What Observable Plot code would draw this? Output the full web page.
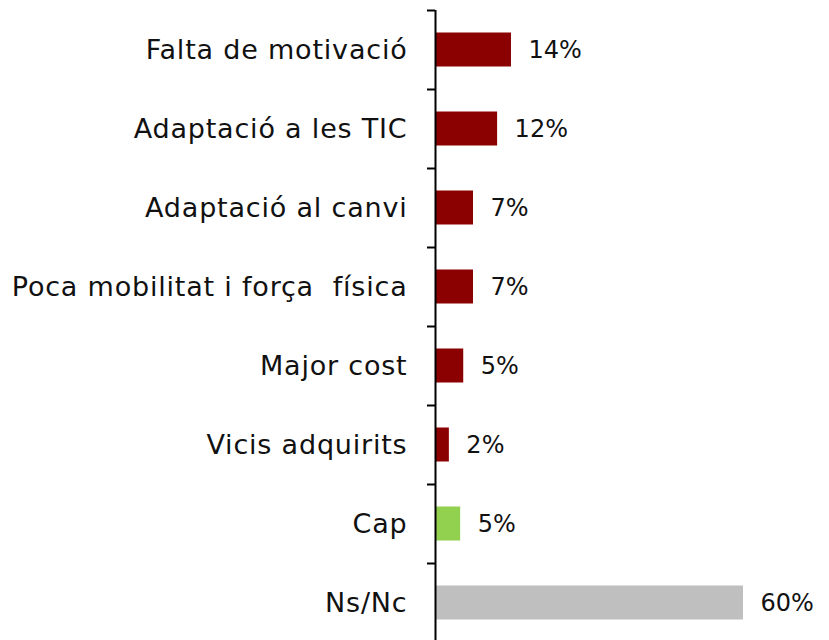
<!DOCTYPE html>
<html>
<head>
<meta charset="utf-8">
<script src="https://cdn.jsdelivr.net/npm/d3@7"></script>
<script src="https://cdn.jsdelivr.net/npm/@observablehq/plot@0.6"></script>
<style>
  html, body { margin: 0; padding: 0; background: #fff; overflow: hidden; }
  #chart svg { display: block; }
  #chart svg g[aria-label="y-axis tick label"] text { letter-spacing: 0.8px; }
</style>
</head>
<body>
<div id="chart"></div>
<script>
const categories = ["Falta de motivació", "Adaptació a les TIC", "Adaptació al canvi", "Poca mobilitat i força  física", "Major cost", "Vicis adquirits", "Cap", "Ns/Nc"];
const values = [14.8, 12.1, 7.4, 7.4, 5.5, 2.7, 4.9, 60];
const valueLabels = ["14%", "12%", "7%", "7%", "5%", "2%", "5%", "60%"];
const groups = ["dificultat", "dificultat", "dificultat", "dificultat", "dificultat", "dificultat", "cap", "nsnc"];
const groupDomain = ["dificultat", "cap", "nsnc"];
const groupColors = ["#8B0000", "#92D050", "#BFBFBF"];

const data = categories.map((c, i) => ({cat: c, value: values[i], label: valueLabels[i], group: groups[i]}));

const H = 642, MT = 10, MB = 0;
const bw = (H - MT - MB) / categories.length;
const FONT = "DejaVu Sans";

const chart = Plot.plot({
  width: 829,
  height: H,
  marginTop: MT,
  marginBottom: MB,
  marginLeft: 435,
  marginRight: 86,
  style: {fontFamily: FONT, fontSize: "27px", color: "#111", background: "white", overflow: "visible"},
  x: {domain: [0, 60], axis: null},
  y: {domain: categories, padding: 0, round: false, label: null},
  color: {domain: groupDomain, range: groupColors},
  marks: [
    Plot.barX(data, {y: "cat", x: "value", fill: "group", insetTop: 22.5, insetBottom: 22.5}),
    Plot.text(data, {y: "cat", x: "value", text: "label", dx: 17, textAnchor: "start", fill: "#111", fontSize: 24}),
    Plot.axisY({tickSize: 8, tickPadding: 0, text: null, dy: -bw / 2, stroke: "#000", strokeWidth: 2, strokeOpacity: 1}),
    Plot.axisY({tickSize: 0, tickPadding: 28, fontSize: 27, fill: "#111", label: null}),
    Plot.ruleX([0], {stroke: "#000", strokeWidth: 2})
  ]
});
document.getElementById("chart").appendChild(chart);
</script>
</body>
</html>
